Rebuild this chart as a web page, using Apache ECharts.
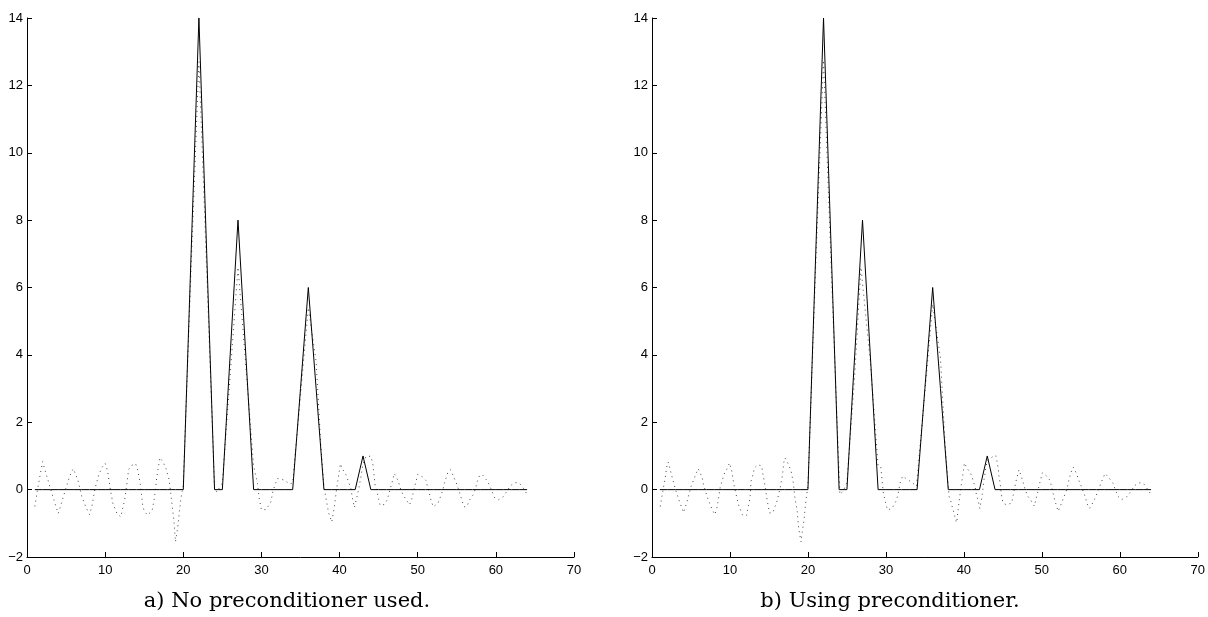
<!DOCTYPE html>
<html>
<head>
<meta charset="utf-8">
<script src="https://cdn.jsdelivr.net/npm/echarts@6/dist/echarts.min.js"></script>
<style>
html,body{margin:0;padding:0;background:#fff;}
#chart{width:1208px;height:617px;}
</style>
</head>
<body>
<div id="chart"></div>
<script>
// True signal (solid line), x = 1..64
const sigX = [];
for (let i = 1; i <= 64; i++) sigX.push(i);
const sigY = [0,0,0,0,0,0,0,0,0,0, 0,0,0,0,0,0,0,0,0,0,
              7,14,7,0,0,4,8,4,0,0, 0,0,0,0,3,6,3,0,0,0,
              0,0,1,0,0,0,0,0,0,0, 0,0,0,0,0,0,0,0,0,0,
              0,0,0,0];

// Reconstruction a) no preconditioner (dotted line)
const recAX = [1,1.3,1.6,2.0,2.4,2.8,3.0,3.5,4.0,4.5,5.0,5.5,5.9,6.1,6.5,7.0,7.5,8.0,8.3,8.7,
  9.2,9.6,10.0,10.3,10.7,11.0,11.5,12.0,12.5,12.8,13.0,13.4,13.9,14.2,14.5,14.8,15.0,15.4,16.0,16.3,
  16.6,17.0,17.4,17.8,18.2,18.4,18.6,18.8,19.0,19.3,19.5,19.7,20.0,21.0,22.0,23.0,24.0,24.3,25.0,26.0,
  27.0,28.0,29.0,29.5,29.7,30.0,30.6,31.2,31.45,31.75,32.05,32.3,33.0,33.6,34.0,35.0,36.0,37.0,37.6,38.0,
  38.3,38.6,39.0,39.3,39.6,40.0,40.1,40.4,40.85,41.15,41.45,41.7,41.9,42.3,42.5,42.8,43.0,43.4,44.0,44.25,
  44.55,44.8,45.0,45.2,45.75,46.1,46.35,46.55,46.8,47.0,47.25,47.5,47.75,48.05,48.5,48.95,49.2,49.4,49.6,49.8,
  50.0,50.6,51.1,51.25,51.5,51.7,52.0,52.2,52.6,52.9,53.2,53.4,53.65,53.9,54.2,54.5,54.85,55.15,55.4,55.65,
  55.95,56.3,56.6,57.05,57.4,57.6,57.9,58.25,58.75,59.2,59.5,59.85,60.35,61.0,61.4,61.85,62.4,63.0,63.55,64.0];
const recAY = [-0.5,-0.07,0.33,0.83,0.5,0.2,0.03,-0.35,-0.71,-0.33,0.06,0.42,0.62,0.6,0.3,-0.2,-0.5,-0.74,-0.5,0.03,
  0.45,0.66,0.78,0.57,-0.04,-0.42,-0.7,-0.81,-0.3,0.2,0.6,0.72,0.77,0.55,0.16,-0.45,-0.64,-0.75,-0.64,-0.25,
  0.35,0.95,0.82,0.62,0.28,-0.12,-0.52,-0.91,-1.55,-1.1,-0.66,-0.27,0.13,6.6,12.7,6.5,0.05,-0.07,0.2,3.4,
  6.6,3.7,0.7,0.18,-0.24,-0.6,-0.59,-0.37,-0.07,0.15,0.33,0.38,0.28,0.16,0.2,2.8,5.4,3.8,1.3,0.1,
  -0.32,-0.69,-0.96,-0.56,-0.02,0.6,0.77,0.6,0.43,0.23,0.03,-0.32,-0.53,-0.14,0.08,0.48,0.77,0.99,0.99,0.77,
  0.13,-0.07,-0.29,-0.47,-0.44,-0.3,-0.1,0.08,0.28,0.48,0.45,0.26,0.06,-0.12,-0.29,-0.45,-0.32,-0.12,0.08,0.26,
  0.45,0.38,0.26,0.08,-0.12,-0.32,-0.51,-0.56,-0.4,-0.22,-0.02,0.18,0.36,0.54,0.59,0.43,0.25,0.06,-0.12,-0.32,
  -0.51,-0.5,-0.32,-0.17,0.03,0.23,0.41,0.45,0.3,0.13,-0.05,-0.24,-0.3,-0.2,-0.05,0.11,0.21,0.2,0.03,-0.14];

// Reconstruction b) using preconditioner (dotted line)
const recBX = [1.06,1.36,1.66,1.91,2.08,2.3,2.72,2.98,3.5,4.05,4.56,4.99,5.29,5.63,5.93,6.18,6.44,6.6,7.08,7.42,
  7.72,8.06,8.31,8.48,8.74,9.25,9.6,9.94,10.24,10.5,10.7,11.05,11.56,11.86,12.16,12.28,12.5,12.6,12.7,12.95,
  13.14,13.57,14.08,14.2,14.5,14.76,15.06,15.49,15.78,16.0,16.42,16.72,16.9,17.06,17.45,17.83,18.13,18.3,18.6,18.81,
  19.11,19.24,19.5,19.75,20.0,21.0,22.0,23.0,24.1,24.5,25.0,26.0,26.8,28.0,29.0,29.35,29.65,29.87,30.08,30.25,
  30.85,31.28,31.53,31.83,32.13,32.77,33.41,33.92,35.0,36.0,37.0,37.6,38.1,38.32,38.53,38.75,38.96,39.09,39.26,39.48,
  39.6,39.73,39.9,40.07,40.45,40.88,41.18,41.44,41.6,41.86,42.04,42.2,42.37,42.59,42.8,43.0,43.65,44.08,44.29,44.42,
  44.5,44.64,44.85,45.02,45.45,46.13,46.3,46.64,46.85,47.06,47.36,47.61,47.83,48.13,48.6,49.03,49.24,49.46,49.63,49.85,
  50.06,50.57,51.04,51.26,51.46,51.64,51.9,52.1,52.41,52.7,53.05,53.3,53.47,53.69,54.02,54.4,54.66,54.97,55.3,55.61,
  55.81,56.12,56.54,56.89,57.19,57.53,57.82,58.12,58.68,59.14,59.45,59.78,60.21,60.85,61.37,61.83,62.35,62.99,63.5,63.93];
const recBY = [-0.5,-0.08,0.3,0.7,0.82,0.62,0.25,0.03,-0.34,-0.68,-0.3,0.08,0.26,0.46,0.62,0.57,0.36,0.16,-0.22,-0.42,
  -0.59,-0.74,-0.56,-0.35,0.06,0.46,0.61,0.79,0.54,0.15,-0.05,-0.42,-0.74,-0.78,-0.76,-0.54,-0.35,-0.17,0.25,0.45,
  0.64,0.74,0.7,0.5,0.11,-0.3,-0.69,-0.69,-0.5,-0.37,0.03,0.41,0.8,0.94,0.77,0.57,0.2,-0.2,-0.59,-1.14,
  -1.55,-1.31,-0.89,-0.3,0.1,6.7,12.75,6.5,-0.14,-0.05,0.2,3.4,6.6,3.8,0.7,0.67,-0.07,-0.3,-0.5,-0.61,
  -0.53,-0.35,-0.17,0.2,0.4,0.3,0.2,0.1,2.9,5.5,3.9,1.3,-0.2,-0.34,-0.53,-0.71,-0.91,-0.98,-0.59,-0.2,
  0.03,0.23,0.48,0.79,0.62,0.48,0.28,0.08,-0.14,-0.34,-0.56,-0.37,-0.12,0.3,0.62,0.87,0.97,1.02,0.8,0.59,
  0.41,0.2,-0.2,-0.4,-0.45,-0.4,-0.2,0.2,0.4,0.59,0.4,0.2,0.03,-0.17,-0.32,-0.49,-0.29,-0.09,0.11,0.3,
  0.5,0.41,0.28,0.08,-0.12,-0.3,-0.5,-0.64,-0.47,-0.29,-0.1,0.1,0.28,0.48,0.67,0.5,0.33,0.15,-0.05,-0.24,
  -0.42,-0.56,-0.39,-0.22,-0.04,0.16,0.33,0.48,0.33,0.18,-0.02,-0.2,-0.3,-0.22,-0.07,0.1,0.2,0.2,0.03,-0.12];

const xTicks = [0,10,20,30,40,50,60,70];
const yTicks = [-2,0,2,4,6,8,10,12,14];
const captions = ['a) No preconditioner used.', 'b) Using preconditioner.'];

function pairs(xs, ys) { return xs.map((x, i) => [x, ys[i]]); }

const chart = echarts.init(document.getElementById('chart'), null, {renderer: 'canvas'});

const labelStyle = {color: '#000', fontSize: 13, fontFamily: 'Liberation Sans, Arial, sans-serif',
  formatter: v => String(v).replace('-', '\u2212')};
const axisCommon = {
  axisLine: {show: true, onZero: false, lineStyle: {color: '#000', width: 1}},
  axisTick: {show: true, inside: true, length: 5, lineStyle: {color: '#000', width: 1}},
  splitLine: {show: false}
};

function xAxis(idx) {
  return Object.assign({}, axisCommon, {
    type: 'value', gridIndex: idx, min: xTicks[0], max: xTicks[xTicks.length - 1], interval: 10,
    axisLabel: Object.assign({}, labelStyle, {margin: 7})
  });
}
function yAxis(idx) {
  return Object.assign({}, axisCommon, {
    type: 'value', gridIndex: idx, min: yTicks[0], max: yTicks[yTicks.length - 1], interval: 2,
    axisLabel: Object.assign({}, labelStyle, {margin: 4})
  });
}

const solidStyle = {color: '#000', width: 1};
const dotStyle = {color: '#444', width: 1, type: [1, 4]};
const capStyle = {fontFamily: 'DejaVu Serif, serif', fontWeight: 'normal', fontSize: 21, color: '#000'};

chart.setOption({
  animation: false,
  backgroundColor: '#fff',
  title: [
    {text: captions[0], left: 282, top: 586, textAlign: 'center', textStyle: capStyle},
    {text: captions[1], left: 885, top: 586, textAlign: 'center', textStyle: capStyle}
  ],
  grid: [
    {left: 27, right: 634, top: 18, bottom: 60, containLabel: false},
    {left: 652, right: 9, top: 18, bottom: 60, containLabel: false}
  ],
  xAxis: [xAxis(0), xAxis(1)],
  yAxis: [yAxis(0), yAxis(1)],
  series: [
    {type: 'line', xAxisIndex: 0, yAxisIndex: 0, data: pairs(recAX, recAY), showSymbol: false, symbol: 'none',
     lineStyle: dotStyle, z: 1, silent: true},
    {type: 'line', xAxisIndex: 0, yAxisIndex: 0, data: pairs(sigX, sigY), showSymbol: false, symbol: 'none',
     lineStyle: solidStyle, z: 2, silent: true},
    {type: 'line', xAxisIndex: 1, yAxisIndex: 1, data: pairs(recBX, recBY), showSymbol: false, symbol: 'none',
     lineStyle: dotStyle, z: 1, silent: true},
    {type: 'line', xAxisIndex: 1, yAxisIndex: 1, data: pairs(sigX, sigY), showSymbol: false, symbol: 'none',
     lineStyle: solidStyle, z: 2, silent: true}
  ]
});
</script>
</body>
</html>
